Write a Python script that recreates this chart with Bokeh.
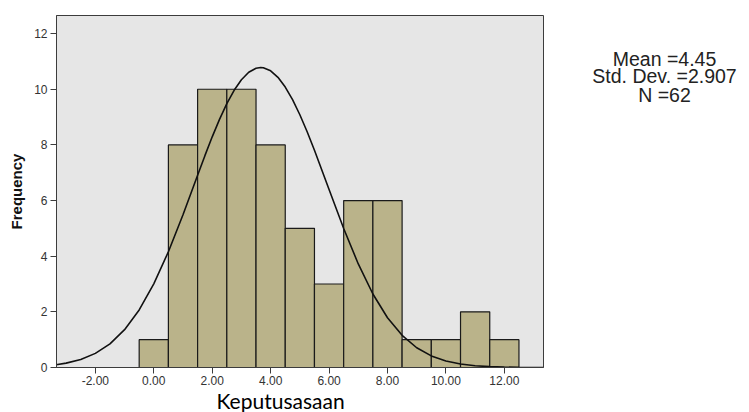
from bokeh.plotting import figure
from bokeh.models import Range1d, FixedTicker, PrintfTickFormatter, Title
from bokeh.layouts import row
from bokeh.core.properties import value
from bokeh.embed import file_html
from bokeh.resources import INLINE

# ---- data ----
bin_centers = [0, 1, 2, 3, 4, 5, 6, 7, 8, 9, 10, 11, 12]
frequencies = [1, 8, 10, 10, 8, 5, 3, 6, 6, 1, 1, 2, 1]
bin_width = 1.0

# normal curve
curve_x = [-3.34, -3, -2.5, -2, -1.5, -1, -0.5, 0, 0.5, 1, 1.5, 1.75, 2, 2.25, 2.5,
           2.75, 3, 3.25, 3.5, 3.66, 3.75, 4, 4.25, 4.5, 4.75, 5, 5.25, 5.5, 6,
           6.5, 7, 7.5, 8, 8.5, 9, 9.5, 10, 10.5, 11, 11.5, 12, 12.5, 13, 13.34]
curve_y = [0.10, 0.157, 0.289, 0.508, 0.851, 1.359, 2.070, 3.006, 4.161, 5.490,
           6.909, 7.613, 8.290, 8.918, 9.482, 9.962, 10.341, 10.609, 10.754, 10.78,
           10.772, 10.662, 10.428, 10.078, 9.625, 9.084, 8.472, 7.806, 6.396,
           4.997, 3.721, 2.642, 1.789, 1.155, 0.710, 0.417, 0.233, 0.124, 0.063,
           0.031, 0.014, 0.006, 0.002, 0.001]

x_ticks = [-2, 0, 2, 4, 6, 8, 10, 12]
y_ticks = [0, 2, 4, 6, 8, 10, 12]

stat_mean = "4.45"
stat_sd = "2.907"
stat_n = "62"

x_title = "Keputusasaan"
y_title = "Frequency"

# ---- main histogram figure ----
x0, x1 = -3.33, 13.34
y0, y1 = 0, 12.65
yr = Range1d(y0, y1)

p = figure(width=545, height=412, output_backend="svg", toolbar_location=None,
           x_range=Range1d(x0, x1), y_range=yr,
           min_border_left=56, min_border_right=2, min_border_top=15,
           min_border_bottom=45)

p.background_fill_color = "#e6e6e6"
p.border_fill_color = "white"
p.outline_line_color = "#3c3c3c"
p.outline_line_width = 1
p.xgrid.visible = False
p.ygrid.visible = False

lefts = [c - bin_width / 2 for c in bin_centers]
rights = [c + bin_width / 2 for c in bin_centers]
p.quad(left=lefts, right=rights, top=frequencies, bottom=0,
       fill_color="#bab38a", line_color="#1a1a1a", line_width=1.2)

p.line(curve_x, curve_y, line_color="#111111", line_width=1.6)

for ax in (p.xaxis[0], p.yaxis[0]):
    ax.axis_line_color = "#3c3c3c"
    ax.major_tick_line_color = "#3c3c3c"
    ax.major_tick_out = 6
    ax.major_tick_in = 0
    ax.minor_tick_out = 0
    ax.minor_tick_in = 0
    ax.major_label_text_font = "Liberation Sans"
    ax.major_label_text_font_size = "12px"
    ax.major_label_text_color = "#333333"
    ax.major_label_standoff = 3
p.xaxis.major_label_standoff = 2

p.xaxis.ticker = FixedTicker(ticks=x_ticks)
p.xaxis.formatter = PrintfTickFormatter(format="%.2f")
p.yaxis.ticker = FixedTicker(ticks=y_ticks)

p.yaxis.axis_label = y_title
p.yaxis.axis_label_text_font = "Liberation Sans"
p.yaxis.axis_label_text_font_size = "15px"
p.yaxis.axis_label_text_font_style = "bold"
p.yaxis.axis_label_text_color = "#111111"
p.yaxis.axis_label_standoff = 6

# x title below the axis, offset to the left as in the reference
p.add_layout(Title(text=x_title, align="left", offset=160, standoff=-3,
                   text_font="Lato", text_font_size="21px",
                   text_font_style="normal", text_color="black"), "below")

# ---- statistics panel on the right (shares the y scale of the histogram) ----
stats = ["Mean =" + stat_mean, "Std. Dev. =" + stat_sd, "N =" + stat_n]
stats_x = [119, 119, 119]
stats_y = [11.08, 10.47, 9.81]
q = figure(width=204, height=412, output_backend="svg", toolbar_location=None,
           x_range=Range1d(0, 204), y_range=yr,
           min_border_left=0, min_border_right=0, min_border_top=15,
           min_border_bottom=45)
q.axis.visible = False
q.xgrid.visible = False
q.ygrid.visible = False
q.outline_line_color = None
q.background_fill_color = "white"
q.border_fill_color = "white"
q.text(x=stats_x, y=stats_y, text=stats,
       text_align="center", text_baseline="alphabetic",
       text_font=value("Liberation Sans"), text_font_size=value("19.5px"),
       text_color="#222222")

layout = row(p, q)
open("out.html", "w").write(file_html(layout, INLINE))
